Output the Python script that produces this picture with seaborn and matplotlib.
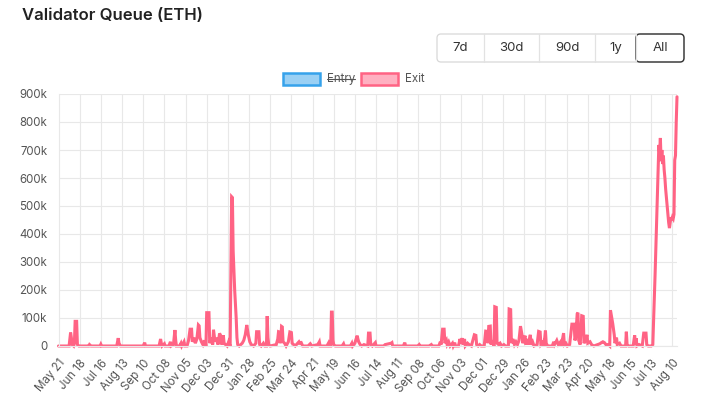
import pandas as pd
import seaborn as sns
import matplotlib.pyplot as plt
import matplotlib.dates as mdates
import matplotlib.ticker as mtick
from matplotlib.patches import Rectangle, FancyBboxPatch
from matplotlib.lines import Line2D

# exit queue (date, thousands of ETH)
dates = [
    '2023-05-21', '2023-06-04', '2023-06-06', '2023-06-07', '2023-06-08', '2023-06-10', '2023-06-11', '2023-06-12', '2023-06-14', '2023-06-15', '2023-06-17', '2023-06-30', '2023-07-01', '2023-07-03', '2023-07-15', '2023-07-16', '2023-07-17',
    '2023-08-06', '2023-08-08', '2023-08-09', '2023-08-11', '2023-09-10', '2023-09-12', '2023-09-13', '2023-10-01', '2023-10-03', '2023-10-04', '2023-10-05', '2023-10-08', '2023-10-09', '2023-10-14', '2023-10-16', '2023-10-17', '2023-10-20', '2023-10-22', '2023-10-23', '2023-10-24', '2023-10-28', '2023-10-30', '2023-10-31',
    '2023-11-03', '2023-11-04', '2023-11-07', '2023-11-09', '2023-11-11', '2023-11-13', '2023-11-14', '2023-11-16', '2023-11-18', '2023-11-20', '2023-11-22', '2023-11-23', '2023-11-24', '2023-11-26', '2023-11-28', '2023-11-30',
    '2023-12-02', '2023-12-03', '2023-12-06', '2023-12-07', '2023-12-09', '2023-12-11', '2023-12-12', '2023-12-14', '2023-12-16', '2023-12-18', '2023-12-20', '2023-12-22', '2023-12-23', '2023-12-25', '2023-12-26', '2023-12-28', '2023-12-30',
    '2024-01-01', '2024-01-03', '2024-01-05', '2024-01-06', '2024-01-07', '2024-01-09', '2024-01-11', '2024-01-12', '2024-01-13', '2024-01-15', '2024-01-19', '2024-01-21', '2024-01-23', '2024-01-25', '2024-01-27', '2024-01-29', '2024-01-31',
    '2024-02-03', '2024-02-06', '2024-02-07', '2024-02-10', '2024-02-11', '2024-02-13', '2024-02-16', '2024-02-18', '2024-02-20', '2024-02-21', '2024-02-22', '2024-02-23', '2024-02-25',
    '2024-03-04', '2024-03-06', '2024-03-07', '2024-03-08', '2024-03-09', '2024-03-10', '2024-03-11', '2024-03-12', '2024-03-13', '2024-03-15', '2024-03-17', '2024-03-20', '2024-03-22', '2024-03-24', '2024-03-25', '2024-03-27', '2024-03-29',
    '2024-04-03', '2024-04-04', '2024-04-06', '2024-04-08', '2024-04-15', '2024-04-18', '2024-04-20', '2024-04-28', '2024-04-30', '2024-05-01', '2024-05-10', '2024-05-12', '2024-05-13', '2024-05-15', '2024-05-16', '2024-05-17', '2024-05-18', '2024-05-19', '2024-05-21', '2024-05-30',
    '2024-06-01', '2024-06-02', '2024-06-10', '2024-06-12', '2024-06-13', '2024-06-16', '2024-06-17', '2024-06-19', '2024-06-20', '2024-06-21', '2024-06-23', '2024-06-25', '2024-06-28', '2024-07-03', '2024-07-04', '2024-07-06', '2024-07-07', '2024-07-09', '2024-07-13', '2024-07-14', '2024-07-24', '2024-07-26',
    '2024-08-03', '2024-08-04', '2024-08-05', '2024-08-19', '2024-08-21', '2024-08-22', '2024-09-07', '2024-09-09', '2024-09-10', '2024-09-22', '2024-09-25', '2024-09-26',
    '2024-10-05', '2024-10-07', '2024-10-08', '2024-10-10', '2024-10-12', '2024-10-13', '2024-10-15', '2024-10-16', '2024-10-18', '2024-10-20', '2024-10-23', '2024-10-24', '2024-10-26', '2024-10-27', '2024-10-31',
    '2024-11-02', '2024-11-03', '2024-11-05', '2024-11-06', '2024-11-08', '2024-11-09', '2024-11-12', '2024-11-14', '2024-11-17', '2024-11-21', '2024-11-23', '2024-11-24', '2024-11-26', '2024-11-28', '2024-11-30',
    '2024-12-04', '2024-12-06', '2024-12-08', '2024-12-09', '2024-12-10', '2024-12-12', '2024-12-13', '2024-12-15', '2024-12-17', '2024-12-18', '2024-12-20', '2024-12-21', '2024-12-23', '2024-12-25', '2024-12-27', '2024-12-30',
    '2025-01-01', '2025-01-05', '2025-01-06', '2025-01-08', '2025-01-09', '2025-01-11', '2025-01-13', '2025-01-15', '2025-01-17', '2025-01-19', '2025-01-21', '2025-01-23', '2025-01-24', '2025-01-27', '2025-01-28', '2025-01-30', '2025-01-31',
    '2025-02-03', '2025-02-04', '2025-02-06', '2025-02-08', '2025-02-12', '2025-02-14', '2025-02-16', '2025-02-17', '2025-02-20', '2025-02-21', '2025-02-23', '2025-02-24', '2025-02-26',
    '2025-03-04', '2025-03-06', '2025-03-07', '2025-03-10', '2025-03-12', '2025-03-15', '2025-03-16', '2025-03-19', '2025-03-20', '2025-03-22', '2025-03-24', '2025-03-27', '2025-03-30',
    '2025-04-02', '2025-04-03', '2025-04-04', '2025-04-06', '2025-04-07', '2025-04-08', '2025-04-10', '2025-04-12', '2025-04-14', '2025-04-15', '2025-04-17', '2025-04-19', '2025-04-20', '2025-04-23', '2025-04-25', '2025-04-28',
    '2025-05-03', '2025-05-06', '2025-05-08', '2025-05-10', '2025-05-12', '2025-05-14', '2025-05-17', '2025-05-19', '2025-05-20', '2025-05-23', '2025-05-25', '2025-05-26', '2025-05-28', '2025-05-29',
    '2025-06-01', '2025-06-03', '2025-06-09', '2025-06-10', '2025-06-11', '2025-06-13', '2025-06-19', '2025-06-21', '2025-06-22', '2025-06-23', '2025-06-24', '2025-06-27',
    '2025-07-01', '2025-07-03', '2025-07-06', '2025-07-07', '2025-07-09', '2025-07-13', '2025-07-15', '2025-07-18', '2025-07-23', '2025-07-24', '2025-07-25', '2025-07-26', '2025-07-27', '2025-07-28', '2025-07-29', '2025-07-30', '2025-07-31',
    '2025-08-01', '2025-08-02', '2025-08-03', '2025-08-04', '2025-08-05', '2025-08-06', '2025-08-07', '2025-08-08', '2025-08-09', '2025-08-10', '2025-08-11', '2025-08-12', '2025-08-13', '2025-08-14', '2025-08-15', '2025-08-16',
]
exit_k = [
    0, 0, 48, 30, 5, 0, 10, 88, 88, 5, 0, 0, 5, 0, 0, 6, 0,
    0, 28, 10, 0, 0, 12, 0, 0, 25, 10, 0, 8, 0, 0, 15, 0, 5, 57, 20, 0, 0, 10, 0,
    15, 0, 0, 20, 60, 60, 15, 30, 10, 25, 75, 72, 30, 15, 5, 20,
    0, 119, 119, 10, 30, 5, 58, 15, 30, 5, 45, 35, 5, 38, 10, 5, 0,
    15, 0, 533, 530, 340, 200, 100, 30, 5, 0, 10, 20, 40, 75, 40, 15, 5,
    0, 10, 51, 51, 5, 0, 10, 0, 0, 107, 30, 5, 0,
    5, 25, 51, 50, 10, 20, 70, 68, 15, 10, 0, 15, 50, 48, 10, 5, 0,
    15, 10, 12, 0, 0, 8, 0, 5, 15, 0, 0, 10, 0, 0, 121, 121, 20, 5, 0, 0,
    8, 0, 0, 10, 0, 10, 20, 37, 25, 15, 5, 0, 5, 0, 46, 46, 5, 0, 12, 0, 0, 5,
    10, 12, 0, 0, 12, 0, 0, 5, 0, 0, 5, 0,
    0, 15, 5, 60, 60, 10, 20, 5, 15, 0, 10, 0, 12, 0, 0,
    25, 10, 28, 5, 25, 0, 10, 5, 0, 40, 38, 5, 0, 5, 0,
    0, 53, 52, 10, 70, 71, 5, 20, 0, 140, 138, 10, 5, 10, 0, 5,
    0, 0, 132, 130, 10, 25, 5, 15, 5, 20, 71, 40, 10, 37, 5, 25, 5,
    40, 5, 15, 0, 5, 52, 50, 5, 15, 0, 55, 10, 0,
    0, 15, 5, 20, 5, 15, 0, 46, 5, 10, 0, 5, 78,
    78, 20, 30, 115, 119, 20, 5, 108, 106, 10, 20, 40, 10, 15, 5, 0,
    5, 8, 12, 15, 12, 5, 5, 0, 128, 80, 40, 10, 30, 5,
    10, 0, 0, 51, 5, 0, 0, 38, 5, 28, 0, 5,
    0, 46, 46, 5, 0, 0, 5, 254, 718, 690, 743, 660, 700, 650, 680, 630, 600,
    560, 530, 500, 470, 440, 421, 440, 460, 450, 460, 455, 470, 664, 680, 800, 890,
]

tick_labels = ['May 21', 'Jun 18', 'Jul 16', 'Aug 13', 'Sep 10', 'Oct 08', 'Nov 05',
               'Dec 03', 'Dec 31', 'Jan 28', 'Feb 25', 'Mar 24', 'Apr 21', 'May 19',
               'Jun 16', 'Jul 14', 'Aug 11', 'Sep 08', 'Oct 06', 'Nov 03', 'Dec 01',
               'Dec 29', 'Jan 26', 'Feb 23', 'Mar 23', 'Apr 20', 'May 18', 'Jun 15',
               'Jul 13', 'Aug 10']
y_ticks = [0, 100000, 200000, 300000, 400000, 500000, 600000, 700000, 800000, 900000]
ranges = ['7d', '30d', '90d', '1y', 'All']
series_names = ['Entry', 'Exit']

queue = pd.DataFrame({'date': pd.to_datetime(dates),
                      'eth': [v * 1000 for v in exit_k]})
tick_dates = pd.date_range('2023-05-21', periods=len(tick_labels), freq='28D')

sns.set_theme(style='white')
plt.rcParams['font.family'] = ['Inter', 'DejaVu Sans']

W, H = 709, 398
fig = plt.figure(figsize=(W / 100, H / 100), dpi=100)
ax = fig.add_axes([58.5 / W, 1 - 346 / H, (677 - 58.5) / W, (346 - 94) / H])

sns.lineplot(data=queue, x='date', y='eth', ax=ax, estimator=None,
             color='#ff6384', lw=2.2, solid_joinstyle='miter', clip_on=False)

ax.set_xlim(queue['date'].iloc[0], queue['date'].iloc[-1])
ax.set_ylim(0, 900000)
ax.set_xticks(mdates.date2num(tick_dates))
ax.set_xticklabels(tick_labels, rotation=50, ha='right', rotation_mode='anchor')
ax.set_yticks(y_ticks)
ax.yaxis.set_major_formatter(mtick.FuncFormatter(
    lambda v, p: '0' if v == 0 else f'{int(v / 1000)}k'))
ax.set_xlabel('')
ax.set_ylabel('')
ax.grid(True, color='#e8e8e8', lw=0.8)
ax.tick_params(axis='both', length=5, width=0.8, color='#e8e8e8',
               labelsize=8.3, labelcolor='#555555', pad=3)
for s in ['top', 'right']:
    ax.spines[s].set_visible(False)
for s in ['left', 'bottom']:
    ax.spines[s].set_color('#e8e8e8')
    ax.spines[s].set_linewidth(0.8)

inch = fig.dpi_scale_trans

# title
fig.text(0.22, (H - 15) / 100, 'Validator Queue (ETH)', transform=inch,
         fontsize=12, fontweight='semibold', va='center', color='#222222')

# range buttons
edges = [437, 484, 539, 595, 636, 684]
by0, by1 = (H - 62) / 100, (H - 34) / 100
fig.add_artist(FancyBboxPatch((edges[0] / 100, by0), (edges[-1] - edges[0]) / 100,
                              by1 - by0, boxstyle='round,pad=0,rounding_size=0.04',
                              transform=inch, fc='white', ec='#d8d8d8', lw=0.9))
for e in edges[1:-1]:
    fig.add_artist(Line2D([e / 100, e / 100], [by0, by1], transform=inch,
                          color='#e2e2e2', lw=0.9))
fig.add_artist(FancyBboxPatch((edges[-2] / 100, by0), (edges[-1] - edges[-2]) / 100,
                              by1 - by0, boxstyle='round,pad=0,rounding_size=0.04',
                              transform=inch, fc='none', ec='#333333', lw=1.0))
for i, lab in enumerate(ranges):
    fig.text((edges[i] + edges[i + 1]) / 200, (by0 + by1) / 2, lab, transform=inch,
             ha='center', va='center', fontsize=9.5, color='#333333')

# legend (Entry hidden, so struck through)
ly = (H - 79) / 100
legend_items = [(283, '#36a2eb', (54 / 255, 162 / 255, 235 / 255, 0.5)),
                (361, '#ff6384', (1.0, 99 / 255, 132 / 255, 0.5))]
texts = []
for (x0, ec, fc), name in zip(legend_items, series_names):
    fig.add_artist(Rectangle((x0 / 100, ly - 0.06), 0.37, 0.12, transform=inch,
                             fc=fc, ec=ec, lw=1.8))
    texts.append(fig.text((x0 + 44) / 100, ly, name, transform=inch, va='center',
                          fontsize=8.3, color='#555555'))
fig.canvas.draw()
bb = texts[0].get_window_extent()
fig.add_artist(Line2D([bb.x0 / 100, bb.x1 / 100], [ly, ly], transform=inch,
                      color='#555555', lw=0.8))

fig.savefig('out.png', dpi=100)
